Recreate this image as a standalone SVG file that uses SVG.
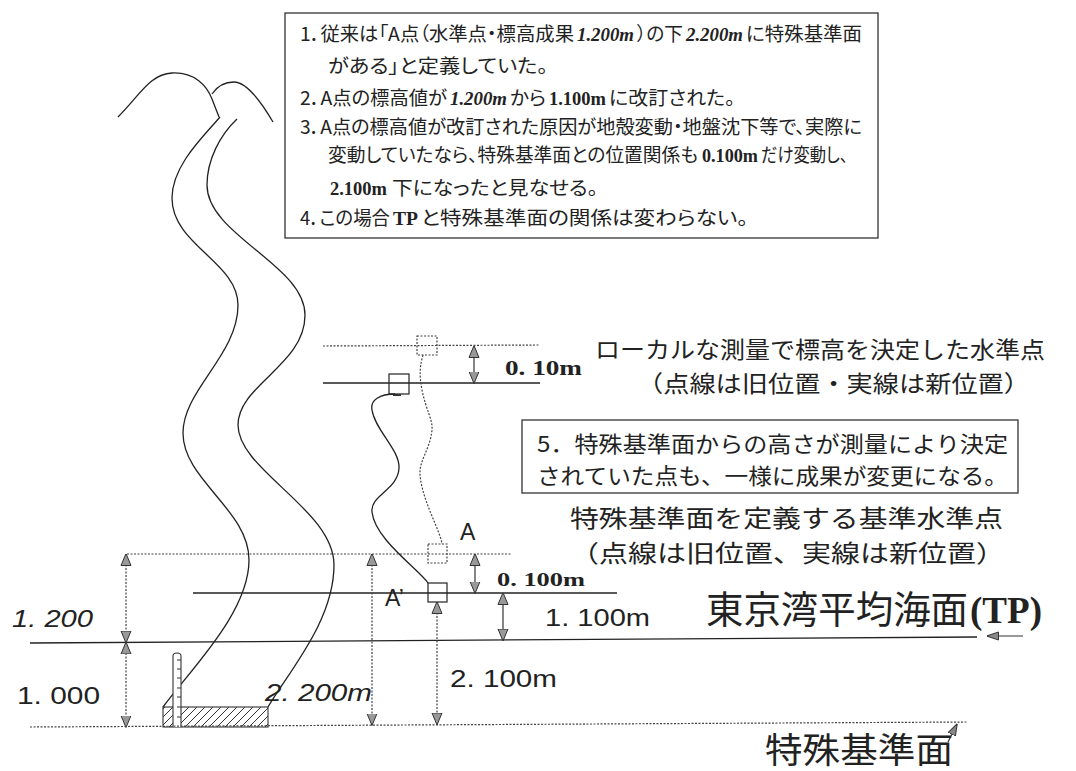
<svg xmlns="http://www.w3.org/2000/svg" width="1076" height="771" viewBox="0 0 1076 771">
  <style>
    .jp { font-family: "Noto Sans CJK JP", "Noto Sans", sans-serif; fill: #222; }
    .n1 { font-size: 19px; font-feature-settings: "palt" 1; }
    .num { font-family: "Liberation Sans", Arial, sans-serif; fill: #222; }
    .ser { font-family: "Liberation Serif", "Times New Roman", serif; font-weight: bold; fill: #222; }
    .seri { font-family: "Liberation Serif", "Times New Roman", serif; font-weight: bold; font-style: italic; fill: #222; }
    .box { fill: #fff; stroke: #333; stroke-width: 1.3; }
    .solid { fill: none; stroke: #222; stroke-width: 1.3; }
    .dot { fill: none; stroke: #444; stroke-width: 1.2; stroke-dasharray: 2 1.5; }
    .curve { fill: none; stroke: #222; stroke-width: 1.3; }
    .dim { fill: none; stroke: #333; stroke-width: 1.2; marker-start: url(#tri); marker-end: url(#tri); }
    .dimdot { fill: none; stroke: #444; stroke-width: 1.2; stroke-dasharray: 2 1.5; marker-start: url(#tri); marker-end: url(#tri); }
  </style>
  <defs>
    <marker id="tri" viewBox="0 0 12 12" refX="11.5" refY="6" markerWidth="12" markerHeight="12" markerUnits="userSpaceOnUse" orient="auto-start-reverse">
      <path d="M0,1 L12,6 L0,11 Z" fill="#999" stroke="#333" stroke-width="1" stroke-dasharray="none"/>
    </marker>
    <marker id="ptr" viewBox="0 0 12 10" refX="11.5" refY="5" markerWidth="12" markerHeight="10" markerUnits="userSpaceOnUse" orient="auto">
      <path d="M0,1 L12,5 L0,9 Z" fill="#888" stroke="#333" stroke-width="1"/>
    </marker>
    <pattern id="hatch" width="8" height="8" patternUnits="userSpaceOnUse">
      <path d="M-2,2 L2,-2 M0,8 L8,0 M6,10 L10,6" stroke="#333" stroke-width="1"/>
    </pattern>
  </defs>

  <rect width="1076" height="771" fill="#fff"/>

  <!-- explanatory notes 1-4; mixed-font lines are set piece by piece -->
  <g id="notes">
    <rect class="box" x="285" y="13" width="593" height="225"/>
    <text class="jp n1" x="300" y="41" textLength="274" lengthAdjust="spacingAndGlyphs">1．従来は「A点（水準点・標高成果</text>
    <text class="seri" font-size="19" x="577" y="41" textLength="57" lengthAdjust="spacingAndGlyphs">1.200m</text>
    <text class="jp n1" x="637" y="41" textLength="46" lengthAdjust="spacingAndGlyphs">）の下</text>
    <text class="seri" font-size="19" x="686" y="41" textLength="57" lengthAdjust="spacingAndGlyphs">2.200m</text>
    <text class="jp n1" x="746" y="41" textLength="116" lengthAdjust="spacingAndGlyphs">に特殊基準面</text>

    <text class="jp n1" x="328" y="73" textLength="220" lengthAdjust="spacingAndGlyphs">がある」と定義していた。</text>

    <text class="jp n1" x="300" y="105" textLength="147" lengthAdjust="spacingAndGlyphs">2．A点の標高値が</text>
    <text class="seri" font-size="19" x="450" y="105" textLength="57" lengthAdjust="spacingAndGlyphs">1.200m</text>
    <text class="jp n1" x="510" y="105" textLength="36" lengthAdjust="spacingAndGlyphs">から</text>
    <text class="ser" font-size="19" x="549" y="105" textLength="57" lengthAdjust="spacingAndGlyphs">1.100m</text>
    <text class="jp n1" x="609" y="105" textLength="126" lengthAdjust="spacingAndGlyphs">に改訂された。</text>

    <text class="jp n1" x="300" y="134" textLength="562" lengthAdjust="spacingAndGlyphs">3．A点の標高値が改訂された原因が地殻変動・地盤沈下等で、実際に</text>

    <text class="jp n1" x="328" y="162" textLength="370" lengthAdjust="spacingAndGlyphs">変動していたなら、特殊基準面との位置関係も</text>
    <text class="ser" font-size="19" x="702" y="162" textLength="56" lengthAdjust="spacingAndGlyphs">0.100m</text>
    <text class="jp n1" x="761" y="162" textLength="87" lengthAdjust="spacingAndGlyphs">だけ変動し、</text>

    <text class="ser" font-size="19" x="330" y="195" textLength="57" lengthAdjust="spacingAndGlyphs">2.100m</text>
    <text class="jp n1" x="392" y="195" textLength="206" lengthAdjust="spacingAndGlyphs">下になったと見なせる。</text>

    <text class="jp n1" x="300" y="225" textLength="90" lengthAdjust="spacingAndGlyphs">4．この場合</text>
    <text class="ser" font-size="19" x="393" y="225" textLength="25" lengthAdjust="spacingAndGlyphs">TP</text>
    <text class="jp n1" x="421" y="225" textLength="327" lengthAdjust="spacingAndGlyphs">と特殊基準面の関係は変わらない。</text>
  </g>

  <!-- mountains and river -->
  <g id="landscape">
    <path class="curve" d="M118,117 C140,95 150,74 172,73 C195,72 207,86 212,99 L219,117"/>
    <path class="curve" d="M212,94 C218,85 225,82 234,82 C246,82 260,100 273,122"/>
    <path class="curve" d="M220,117 C205,135 172,165 172,198 C172,245 238,262 238,305 C238,355 183,390 183,433 C183,480 249,510 249,560 C249,612 192,668 163,707"/>
    <path class="curve" d="M237,119 C220,135 207,160 207,185 C207,235 305,265 305,315 C305,365 238,385 238,425 C238,470 334,510 334,565 C334,620 290,670 268,707"/>
  </g>

  <!-- tide staff on its base -->
  <g id="staff">
    <rect x="163" y="707" width="105" height="20" fill="url(#hatch)" stroke="#333" stroke-width="1.1"/>
    <path d="M173,727 L173,656 Q173,653 177,653 Q181,653 181,656 L181,727" fill="#fff" stroke="#333" stroke-width="1.1"/>
    <path d="M177,660 H181 M177,669 H181 M177,678 H181 M177,688 H181 M177,697 H181 M177,707 H181 M177,717 H181" stroke="#333" stroke-width="1"/>
  </g>

  <!-- reference levels -->
  <g id="levels">
    <line class="dot" x1="323" y1="346" x2="539" y2="345"/>
    <line class="solid" x1="323" y1="383" x2="540" y2="383"/>
    <line class="dot" x1="127" y1="554" x2="512" y2="554"/>
    <line class="solid" x1="193" y1="593" x2="617" y2="593"/>
    <line class="solid" x1="30" y1="643" x2="977" y2="637"/>
    <line class="dot" x1="30" y1="727" x2="968" y2="722"/>
  </g>

  <!-- benchmarks -->
  <g id="local-old"><rect x="417" y="336" width="20" height="19" fill="none" class="dot"/></g>
  <g id="local-new">
    <rect x="389" y="374" width="20" height="20" fill="none" stroke="#222" stroke-width="1.2"/>
    <rect x="393" y="394" width="8" height="2" fill="#333"/>
  </g>
  <g id="A-old"><rect x="428" y="544" width="19" height="19" fill="none" class="dot"/></g>
  <g id="A-new"><rect x="428" y="583" width="19" height="19" fill="none" stroke="#222" stroke-width="1.2"/></g>

  <!-- connectors between benchmarks and dimension arrows -->
  <g id="connectors">
    <path class="curve" d="M395,394 C380,394 370,400 372,410 C375,430 400,450 399,468 C398,490 370,495 372,512 C375,540 420,570 428,583"/>
    <path class="dot" d="M423,355 C420,365 419,375 422,390 C426,410 433,420 432,430 C430,450 419,460 420,475 C422,500 440,530 442,544"/>
    <line class="dim" x1="474" y1="346" x2="474" y2="383"/>
    <line class="dim" x1="475" y1="554" x2="475" y2="593"/>
    <line class="dim" x1="503" y1="593" x2="503" y2="640.5"/>
    <line class="dimdot" x1="437" y1="602" x2="437" y2="724.5"/>
    <line class="dimdot" x1="372" y1="554" x2="372" y2="725"/>
    <line class="dimdot" x1="126" y1="554" x2="126" y2="642.5"/>
    <line class="dimdot" x1="126" y1="642.5" x2="126" y2="727"/>
    <line x1="1023" y1="636" x2="987" y2="636" stroke="#333" stroke-width="1.2" marker-end="url(#ptr)"/>
    <line x1="948" y1="742" x2="957" y2="724" stroke="#333" stroke-width="1.2" marker-end="url(#ptr)"/>
  </g>

  <!-- note 5 -->
  <g id="note5">
    <rect class="box" x="522" y="420" width="496" height="73"/>
    <text class="jp" font-size="22" x="537" y="452" textLength="471" lengthAdjust="spacingAndGlyphs">5．特殊基準面からの高さが測量により決定</text>
    <text class="jp" font-size="22" x="537" y="484" textLength="471" lengthAdjust="spacingAndGlyphs">されていた点も、一様に成果が変更になる。</text>
  </g>

  <!-- labels -->
  <g id="labels">
    <text class="jp" font-size="23" x="595" y="358" textLength="450" lengthAdjust="spacingAndGlyphs">ローカルな測量で標高を決定した水準点</text>
    <text class="jp" font-size="23" x="637" y="392" textLength="393" lengthAdjust="spacingAndGlyphs">（点線は旧位置・実線は新位置）</text>
    <text class="jp" font-size="24" x="570" y="527" textLength="433" lengthAdjust="spacingAndGlyphs">特殊基準面を定義する基準水準点</text>
    <text class="jp" font-size="24" x="570" y="562" textLength="435" lengthAdjust="spacingAndGlyphs">（点線は旧位置、実線は新位置）</text>
    <text class="jp" font-size="38" x="706" y="623" textLength="262" lengthAdjust="spacingAndGlyphs">東京湾平均海面</text>
    <text class="ser" font-size="38" x="970" y="623" textLength="72" lengthAdjust="spacingAndGlyphs">(TP)</text>
    <text class="jp" font-size="35" x="765" y="763" textLength="188" lengthAdjust="spacingAndGlyphs">特殊基準面</text>

    <text class="ser" font-size="20" x="505" y="375" textLength="77" lengthAdjust="spacingAndGlyphs">0. 10m</text>
    <text class="ser" font-size="19" x="497" y="586" textLength="88" lengthAdjust="spacingAndGlyphs">0. 100m</text>
    <text class="num" font-size="24" x="545" y="626" textLength="105" lengthAdjust="spacingAndGlyphs">1. 100m</text>
    <text class="num" font-size="24" x="450" y="687" textLength="107" lengthAdjust="spacingAndGlyphs">2. 100m</text>
    <text class="num" font-size="24" font-style="italic" x="265" y="701" textLength="107" lengthAdjust="spacingAndGlyphs">2. 200m</text>
    <text class="num" font-size="24" font-style="italic" x="12" y="627" textLength="81" lengthAdjust="spacingAndGlyphs">1. 200</text>
    <text class="num" font-size="24" x="17" y="704" textLength="83" lengthAdjust="spacingAndGlyphs">1. 000</text>
    <text class="num" font-size="23" x="460" y="540">A</text>
    <text class="num" font-size="23" x="385" y="606">A’</text>
  </g>
</svg>
